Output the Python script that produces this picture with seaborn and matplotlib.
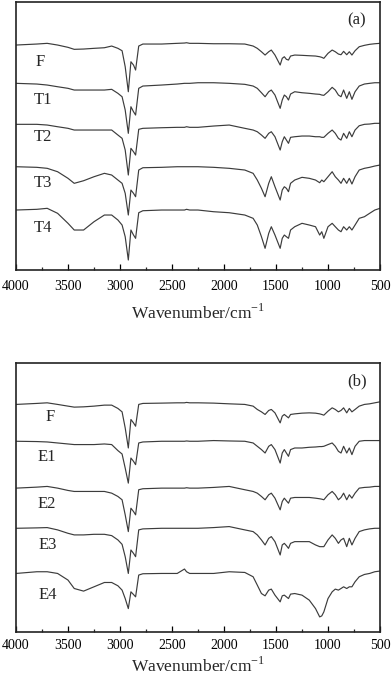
import pandas as pd
import numpy as np
import matplotlib
matplotlib.use("Agg")
import matplotlib.pyplot as plt
import seaborn as sns
from matplotlib.ticker import MultipleLocator

# wavenumber grid (cm-1), shared by every spectrum
wavenumber = [4000, 3800, 3700, 3600, 3500, 3440, 3350, 3250, 3150, 3080, 3020, 2980, 2950, 2920,
              2895, 2870, 2850, 2820, 2780, 2600, 2450, 2380, 2360, 2330, 2250,
              2100, 1950, 1800, 1720, 1680, 1640, 1605, 1570, 1545, 1510, 1460, 1440, 1420, 1400,
              1380, 1360, 1320, 1250, 1180, 1120, 1080, 1060, 1040, 1000, 960, 930, 900, 875, 850,
              820, 795, 770, 740, 700, 650, 600, 550, 500]

# stacked spectra (depth units, larger = lower on the plot)
F_a = [15, 14, 13.3, 15, 17.3, 19.3, 19, 18.3, 17.7, 16, 18.3, 20.7, 36.7, 61.7, 31.7, 35, 40, 16, 14, 14, 13.3, 13, 12.7, 13.3, 13.3,
       13.7, 13.7, 14, 16, 18.3, 21.7, 25, 21.7, 20, 25, 35, 28.3, 26.7, 29.3, 30, 26, 25, 25.3, 25.7, 26, 26.7, 27.3, 28.3, 23.3,
       20, 21.7, 24, 24.7, 21.3, 24.7, 21.7, 25, 20.7, 16.7, 15.3, 14.3, 13.7, 13.3]
T1 = [53.3, 54, 55, 56.7, 58.3, 60, 60, 60, 60, 59.3, 63.3, 66.7, 80, 103.3, 76.7, 81.7, 85, 58.3, 56, 55, 54, 53.3, 53.3, 53.3, 52.7,
      52.7, 53.3, 54.3, 56, 58.3, 62.7, 66.7, 61.7, 60, 65, 78.3, 70, 65, 66.7, 70, 64, 61.7, 62.7, 63.3, 64, 64.3, 65, 65.3, 61.7,
      57.3, 60, 65, 66.7, 60, 68.3, 61.7, 69.3, 61.7, 56, 54, 53.3, 52.7, 52.7]
T2 = [94.3, 94.3, 95, 96.7, 98.3, 100, 100, 100, 100, 100, 105, 108.3, 120, 145, 118.3, 121.7, 125, 99.3, 98.3, 97.7, 97.3, 97.3, 96.7, 97.3, 97.3,
      96, 95, 98.3, 100, 101.7, 105, 108.3, 103.3, 101.7, 106.7, 120, 111.7, 106.7, 110, 113.3, 107.3, 106.7, 106, 106, 106.7, 106.7, 107.3, 107.3, 103.3,
      100, 103.3, 108.3, 110, 103.3, 108.3, 101.7, 106.7, 100, 95.7, 94.3, 94, 93.3, 93.3]
T3 = [136.7, 137.3, 138.3, 141.7, 148.3, 153.3, 150.7, 146.7, 143.3, 145, 150, 153.3, 163.3, 185, 160, 163.3, 166.7, 140, 137.7, 137.3, 136.7, 136.7, 136.7, 136.7, 136.7,
      137.3, 138.3, 140, 143.3, 150, 158.3, 166.7, 153.3, 146.7, 156.7, 170, 160, 156.7, 158.3, 161.7, 153.3, 150, 147.3, 148.3, 150, 152.7, 150, 151.7, 146.7,
      141.7, 146.7, 150, 153.3, 148.3, 153.3, 148.3, 154, 146.7, 140, 138.3, 137.3, 136, 135]
T4 = [180, 179.3, 178.3, 183.3, 193.3, 200, 200, 191.7, 185, 185, 190, 195, 206.7, 230, 200, 205, 208.3, 182.7, 180.7, 180, 180, 180, 179.3, 180, 180,
      181.7, 182.7, 185, 188.3, 195, 206.7, 218.3, 203.3, 196.7, 205, 218.3, 208.3, 205, 206.7, 208.3, 200, 196.7, 193.3, 195, 196.7, 205, 201.7, 208.3, 196.7,
      193.3, 196.7, 200, 201.7, 196.7, 200, 196.7, 200, 195, 188.3, 186.7, 183.3, 180, 178.3]

F_b = [13.3, 12.3, 11.7, 13.3, 15, 16, 15.7, 15, 14, 14, 17.3, 20.7, 36.7, 56.7, 28.3, 31.7, 35, 13.3, 12.3, 12, 11.7, 11.7, 11.3, 11.7, 11.7,
       12, 12.7, 13.3, 15, 18.3, 20.7, 23.3, 19.3, 18.3, 21.7, 31.7, 25, 23.3, 25, 26.7, 23.3, 22.7, 22, 21.7, 22, 22.7, 23.3, 24, 20,
       16.7, 18.3, 20.7, 19.3, 16.7, 21.7, 17.3, 20.7, 18.3, 15, 13.3, 12.7, 11.7, 10.7]
E1 = [50, 50.3, 50.7, 51.7, 52.7, 53.3, 53.3, 53.3, 52.7, 53.3, 59.3, 62.7, 76.7, 91.7, 66.7, 70, 73.3, 51.7, 50.7, 50, 50, 50, 49.7, 50, 50,
      49.3, 49.7, 50, 51.7, 55, 58.3, 61.7, 55, 53.3, 58.3, 71.7, 61.7, 58.3, 61.7, 65, 58.3, 56.7, 56.7, 56, 55.7, 55.3, 55.3, 55, 53.3,
      51.7, 55, 60, 61.7, 55, 61.7, 56.7, 63.3, 55, 50, 49.3, 49.3, 49.3, 49.3]
E2 = [96.7, 95.7, 95, 96.7, 99, 100, 100, 100, 100, 101.7, 105, 108.3, 123.3, 140, 116.7, 120, 123.3, 98.3, 97.3, 96.7, 96.7, 96.7, 96.3, 96.7, 96.7,
      96, 95, 98.3, 100, 101.7, 105, 108.3, 103.3, 101.7, 106.7, 118.3, 110, 106.7, 109.3, 111.7, 106.7, 106, 106, 106, 106.7, 107.3, 107.7, 108.3, 103.3,
      100, 103.3, 108.3, 106, 101.7, 108.3, 103.3, 106.7, 101.7, 96.7, 96, 95.7, 95, 95]
E3 = [136.7, 136.3, 136, 138.3, 141.7, 143.3, 143.3, 142.7, 142.7, 144, 148.3, 152.7, 165, 181.7, 158.3, 161.7, 165, 138.3, 137.3, 136.7, 136.7, 136.7, 136.7, 136.7, 136.7,
      136, 135, 138.3, 140, 143.3, 148.3, 153.3, 146.7, 145, 150, 163.3, 153.3, 151.7, 154, 156.7, 151.7, 150, 150, 150, 153.3, 155, 155, 155, 148.3,
      143.3, 146.7, 151.7, 148.3, 146.7, 155, 146.7, 153.3, 146.7, 140, 138.3, 137.3, 136.7, 136.7]
E4 = [181.7, 180, 180, 181.7, 188.3, 196.7, 199.3, 195, 190.7, 190.7, 194, 198.3, 206.7, 216.7, 200, 202.7, 205, 183.3, 182, 181.7, 181.7, 177.3, 180, 181.7, 181.7,
      181.7, 180, 180.7, 185, 193.3, 201.7, 204, 198.3, 197.3, 203.3, 210, 204, 203.3, 205, 206.7, 202.3, 201.7, 203.3, 208.3, 216.7, 225, 224, 220, 206.7,
      200, 197.3, 198.3, 196.7, 195, 196.7, 195, 195, 190, 185, 182.7, 181.7, 180, 179.3]

names_a = ["F", "T1", "T2", "T3", "T4"]
names_b = ["F", "E1", "E2", "E3", "E4"]
label_pos_a = [(3769, 32), (3740, 70), (3740, 107), (3740, 153), (3740, 198)]
label_pos_b = [(3673, 26), (3700, 66), (3700, 113), (3692, 153), (3692, 203)]


def long_df(names, series):
    frames = []
    for n, s in zip(names, series):
        frames.append(pd.DataFrame({"wn": wavenumber, "d": s, "sample": n}))
    return pd.concat(frames, ignore_index=True)


df_a = long_df(names_a, [F_a, T1, T2, T3, T4])
df_b = long_df(names_b, [F_b, E1, E2, E3, E4])

sns.set_style("ticks")
plt.rcParams["font.family"] = ["Liberation Serif", "DejaVu Serif"]
plt.rcParams["mathtext.fontset"] = "custom"
plt.rcParams["mathtext.rm"] = "Liberation Serif"

fig = plt.figure(figsize=(3.92, 6.81), dpi=100)
ax_a = fig.add_axes([0.0408, 0.6035, 0.9286, 0.3935])
ax_b = fig.add_axes([0.0408, 0.0720, 0.9286, 0.3950])

panels = [(ax_a, df_a, names_a, label_pos_a, "(a)", 7.0, 8.0),
          (ax_b, df_b, names_b, label_pos_b, "(b)", 5.0, 3.0)]

for ax, df, names, lpos, tag, tpad, lpad in panels:
    sns.lineplot(data=df, x="wn", y="d", units="sample", estimator=None,
                 color="#3c3c3c", lw=0.85, ax=ax, legend=False)
    ax.set_xlim(4000, 500)
    ax.set_ylim(240, -28)
    ax.set_yticks([])
    ax.set_ylabel("")
    ax.xaxis.set_major_locator(MultipleLocator(500))
    ax.xaxis.set_minor_locator(MultipleLocator(250))
    ax.tick_params(axis="x", which="major", direction="in", length=4.3, width=0.9,
                   labelsize=10, pad=tpad, colors="black")
    ax.tick_params(axis="x", which="minor", direction="in", length=2.2, width=0.9)
    for sp in ax.spines.values():
        sp.set_linewidth(1.2)
        sp.set_color("#222222")
    ax.set_xlabel("Wavenumber/cm$^{\\mathregular{-1}}$", fontsize=12.5, labelpad=lpad)
    for n, (x, y) in zip(names, lpos):
        ax.text(x, y, n, fontsize=12, ha="center", va="center")
    ax.text(721, -10, tag, fontsize=12, ha="center", va="center")

fig.savefig("out.png", dpi=100)
